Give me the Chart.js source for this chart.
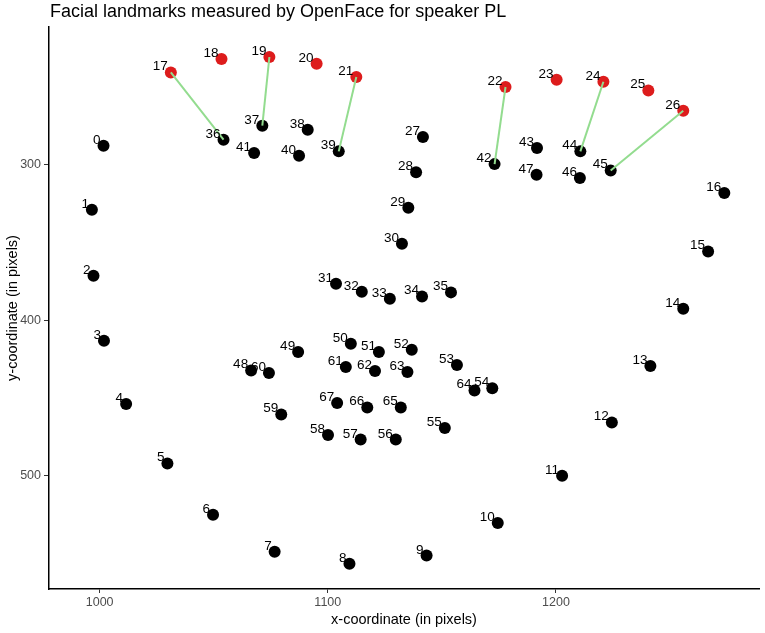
<!DOCTYPE html>
<html>
<head>
<meta charset="utf-8">
<script src="https://cdn.jsdelivr.net/npm/chart.js@4.4.1/dist/chart.umd.min.js"></script>
<style>
  body { margin: 0; background: #fff; }
  #wrap { width: 765px; height: 633px; }
</style>
</head>
<body>
<div id="wrap"><canvas id="faceChart"></canvas></div>
<script>
// landmark ids 0..67 and their coordinates
var landmarkX = [
  1001.7, 996.6, 997.3, 1001.9, 1011.6, 1029.7, 1049.7, 1076.7, 1109.5, 1143.3,
  1174.5, 1202.7, 1224.5, 1241.4, 1255.8, 1266.7, 1273.8, 1031.2, 1053.4, 1074.4,
  1095.1, 1112.5, 1177.9, 1200.3, 1220.8, 1240.5, 1255.8, 1141.7, 1138.7, 1135.3,
  1132.5, 1103.6, 1114.9, 1127.2, 1141.3, 1154.0, 1054.3, 1071.3, 1091.2, 1104.8,
  1087.4, 1067.7, 1173.1, 1191.7, 1210.7, 1224.0, 1210.5, 1191.5, 1066.4, 1087.0,
  1110.1, 1122.4, 1136.8, 1156.6, 1172.1, 1151.3, 1129.8, 1114.4, 1100.1, 1079.6,
  1074.2, 1107.9, 1120.7, 1134.9, 1164.3, 1132.0, 1117.3, 1104.1
];
var landmarkY = [
  287.8, 328.9, 371.4, 413.2, 453.9, 492.1, 525.1, 548.9, 556.6, 551.4,
  530.4, 500.0, 465.8, 429.5, 392.6, 355.8, 318.2, 240.6, 232.0, 230.7,
  235.0, 243.6, 250.0, 245.3, 246.6, 252.2, 265.3, 282.2, 304.9, 327.7,
  350.8, 376.5, 381.7, 386.2, 384.7, 382.1, 283.9, 274.9, 277.5, 291.4,
  294.2, 292.5, 299.6, 289.3, 291.4, 303.7, 308.6, 306.4, 432.3, 420.5,
  415.1, 420.5, 419.0, 428.8, 443.8, 469.3, 476.8, 476.8, 473.8, 460.6,
  434.0, 430.1, 432.7, 433.3, 445.2, 456.1, 456.1, 453.3
];
// eyebrow landmarks drawn in red
var browIds = [17, 18, 19, 20, 21, 22, 23, 24, 25, 26];
// brow -> eye connections
var linkFrom = [17, 19, 21, 22, 24, 26];
var linkTo = [36, 37, 39, 42, 44, 45];

var xTicks = [1000, 1100, 1200];
var yTicks = [300, 400, 500];

var FONT = "'Liberation Sans', Arial, sans-serif";

function pointsFor(ids) {
  return ids.map(function (i) {
    return { x: landmarkX[i], y: landmarkY[i], id: i };
  });
}

var allIds = landmarkX.map(function (v, i) { return i; });
var blackIds = allIds.filter(function (i) { return browIds.indexOf(i) < 0; });

var datasets = [];
linkFrom.forEach(function (a, k) {
  datasets.push({
    type: "line",
    data: pointsFor([a, linkTo[k]]),
    borderColor: "#93dc8f",
    borderWidth: 2,
    pointRadius: 0,
    pointHoverRadius: 0,
    fill: false,
    isLink: true,
  });
});
datasets.push({
  data: pointsFor(blackIds),
  backgroundColor: "#000",
  borderWidth: 0,
  pointRadius: 6,
});
datasets.push({
  data: pointsFor(browIds),
  backgroundColor: "#dd1c1c",
  borderWidth: 0,
  pointRadius: 6,
});

var pointLabels = {
  id: "pointLabels",
  afterDatasetsDraw: function (chart) {
    var ctx = chart.ctx;
    ctx.save();
    ctx.font = "13.5px " + FONT;
    ctx.fillStyle = "#000";
    ctx.textAlign = "right";
    ctx.textBaseline = "alphabetic";
    chart.data.datasets.forEach(function (ds, di) {
      if (ds.isLink) return;
      var meta = chart.getDatasetMeta(di);
      meta.data.forEach(function (el, j) {
        ctx.fillText(String(ds.data[j].id), el.x - 3, el.y - 2);
      });
    });
    ctx.restore();
  },
};

var titlePlugin = {
  id: "leftTitle",
  afterDraw: function (chart) {
    var ctx = chart.ctx;
    ctx.save();
    ctx.font = "18px " + FONT;
    ctx.fillStyle = "#000";
    ctx.textAlign = "left";
    ctx.textBaseline = "alphabetic";
    ctx.fillText("Facial landmarks measured by OpenFace for speaker PL", chart.chartArea.left + 1, 17);
    ctx.restore();
  },
};

function plainTick(value) {
  return String(value);
}

new Chart(document.getElementById("faceChart"), {
  type: "scatter",
  data: { datasets: datasets },
  plugins: [pointLabels, titlePlugin],
  options: {
    responsive: true,
    maintainAspectRatio: false,
    animation: false,
    layout: { padding: { top: 27, right: 2, left: 0, bottom: 0 } },
    plugins: {
      legend: { display: false },
      tooltip: { enabled: false },
    },
    scales: {
      x: {
        type: "linear",
        min: 977.8,
        max: 1289,
        afterBuildTicks: function (scale) {
          scale.ticks = xTicks.map(function (v) { return { value: v }; });
        },
        afterFit: function (scale) { scale.height = 44; },
        grid: { drawOnChartArea: false, tickLength: 4, tickColor: "#333", tickWidth: 1 },
        border: { color: "#000", width: 1.5 },
        ticks: { color: "#4d4d4d", font: { size: 12.5, family: FONT }, padding: 2, maxRotation: 0, callback: plainTick },
        title: {
          display: true,
          text: "x-coordinate (in pixels)",
          color: "#000",
          font: { size: 14.5, family: FONT },
          padding: { top: 0, bottom: 4 },
        },
      },
      y: {
        type: "linear",
        reverse: true,
        min: 211.4,
        max: 572.9,
        afterBuildTicks: function (scale) {
          scale.ticks = yTicks.map(function (v) { return { value: v }; });
        },
        afterFit: function (scale) { scale.width = 49; },
        grid: { drawOnChartArea: false, tickLength: 5, tickColor: "#333", tickWidth: 1 },
        border: { color: "#000", width: 1.5 },
        ticks: { color: "#4d4d4d", font: { size: 12.5, family: FONT }, padding: 3, callback: plainTick },
        title: {
          display: true,
          text: "y-coordinate (in pixels)",
          color: "#000",
          font: { size: 14.5, family: FONT },
          padding: { top: 4, bottom: 0 },
        },
      },
    },
  },
});
</script>
</body>
</html>
